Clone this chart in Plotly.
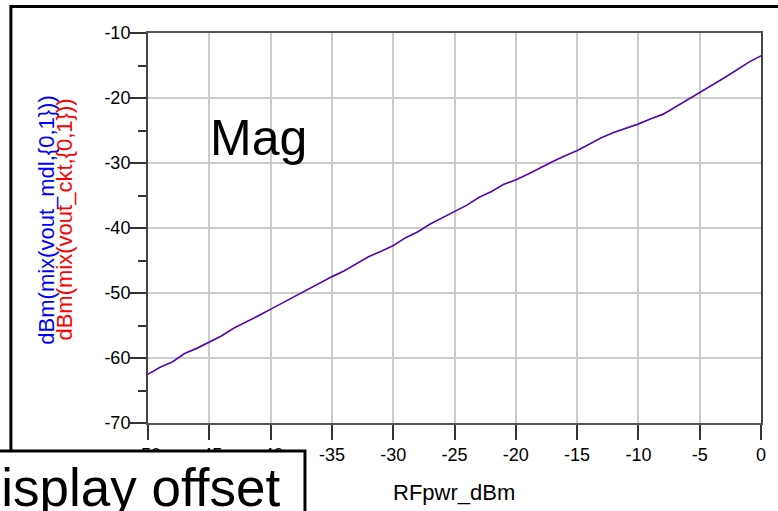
import plotly.graph_objects as go

# ---- data ----
rf_pwr_dbm = list(range(-50, 1))
vout_mdl_dbm = [
    -62.5, -61.4, -60.6, -59.3, -58.5, -57.5, -56.6, -55.4, -54.5, -53.5,
    -52.5, -51.5, -50.4, -49.4, -48.4, -47.5, -46.6, -45.5, -44.4, -43.6,
    -42.7, -41.5, -40.6, -39.4, -38.4, -37.5, -36.5, -35.3, -34.4, -33.3,
    -32.6, -31.7, -30.7, -29.8, -28.9, -28.1, -27.1, -26.1, -25.3, -24.7,
    -24.0, -23.2, -22.5, -21.4, -20.3, -19.2, -18.1, -16.9, -15.7, -14.5,
    -13.5,
]
vout_ckt_dbm = [
    -62.5, -61.4, -60.6, -59.3, -58.5, -57.5, -56.6, -55.4, -54.5, -53.5,
    -52.5, -51.5, -50.4, -49.4, -48.4, -47.5, -46.6, -45.5, -44.4, -43.6,
    -42.7, -41.5, -40.6, -39.4, -38.4, -37.5, -36.5, -35.3, -34.4, -33.3,
    -32.6, -31.7, -30.7, -29.8, -28.9, -28.1, -27.1, -26.1, -25.3, -24.7,
    -24.0, -23.2, -22.5, -21.4, -20.3, -19.2, -18.1, -16.9, -15.7, -14.5,
    -13.5,
]
x_ticks = [-50, -45, -40, -35, -30, -25, -20, -15, -10, -5, 0]
y_ticks = [-70, -60, -50, -40, -30, -20, -10]

FONT = "Liberation Sans, Arial, Helvetica, sans-serif"

# layout geometry in pixels
W, H = 778, 511
L, R, T, B = 148, 13, 33, 88
pw = W - L - R
ph = H - T - B


def px(xp):
    return (xp - L) / pw


def py(yp):
    return (H - B - yp) / ph


fig = go.Figure()
fig.add_trace(go.Scatter(
    x=rf_pwr_dbm, y=vout_ckt_dbm, mode="lines",
    line=dict(color="#ff0000", width=1.4), name="vout_ckt",
))
fig.add_trace(go.Scatter(
    x=rf_pwr_dbm, y=vout_mdl_dbm, mode="lines",
    line=dict(color="rgba(20,20,255,0.85)", width=1.4), name="vout_mdl",
))

fig.update_layout(
    width=W, height=H,
    margin=dict(l=L, r=R, t=T, b=B, pad=0),
    paper_bgcolor="white", plot_bgcolor="white",
    showlegend=False,
    font=dict(family=FONT, size=18, color="black"),
    xaxis=dict(
        range=[-50, 0], tickvals=x_ticks, ticktext=[str(v) for v in x_ticks],
        ticks="outside", ticklen=15, tickwidth=1.5, tickcolor="#333",
        showgrid=True, gridcolor="#cccccc", gridwidth=1.5,
        showline=True, linecolor="#555", linewidth=1.5, mirror=True,
        zeroline=False, tickfont=dict(family=FONT, size=18, color="black"),
    ),
    yaxis=dict(
        range=[-70, -10], tickvals=y_ticks, ticktext=[str(v) for v in y_ticks],
        ticks="outside", ticklen=16, tickwidth=1.5, tickcolor="#333",
        showgrid=True, gridcolor="#cccccc", gridwidth=1.5,
        showline=True, linecolor="#444", linewidth=2, mirror=True,
        zeroline=False, tickfont=dict(family=FONT, size=18, color="black"),
        ticklabelstandoff=-4,
        minor=dict(dtick=5, tick0=-70, ticks="outside", ticklen=8,
                   tickwidth=1.5, tickcolor="#333", showgrid=False),
    ),
)

# outer thick frame (extends beyond the visible window on the right/bottom)
fig.add_shape(type="rect", xref="paper", yref="paper",
              x0=px(10), x1=px(820), y0=py(640), y1=py(6.5),
              line=dict(color="black", width=3), fillcolor="rgba(0,0,0,0)",
              layer="above")
# "Display offset" box covering lower-left corner
fig.add_shape(type="rect", xref="paper", yref="paper",
              x0=px(-60), x1=px(306), y0=py(560), y1=py(451),
              line=dict(color="black", width=3), fillcolor="white",
              layer="above")

annotations = [
    dict(text="Mag", x=-45.1, y=-26.2, xref="x", yref="y",
         xanchor="left", yanchor="middle", showarrow=False,
         font=dict(family=FONT, size=50, color="black")),
    dict(text="RFpwr_dBm", x=px(456), y=py(492.5), xref="paper", yref="paper",
         xanchor="center", yanchor="middle", showarrow=False,
         font=dict(family=FONT, size=22, color="black")),
    dict(text="dBm(mix(vout_mdl,{0,1}))", x=px(46), y=py(220),
         xref="paper", yref="paper", xanchor="center", yanchor="middle",
         textangle=-90, showarrow=False,
         font=dict(family=FONT, size=22, color="#0000ff")),
    dict(text="dBm(mix(vout_ckt,{0,1}))", x=px(64), y=py(220),
         xref="paper", yref="paper", xanchor="center", yanchor="middle",
         textangle=-90, showarrow=False,
         font=dict(family=FONT, size=22, color="#ff0000")),
    dict(text="Display offset", x=px(-40), y=py(487), xref="paper", yref="paper",
         xanchor="left", yanchor="middle", showarrow=False,
         font=dict(family=FONT, size=53, color="black")),
]
fig.update_layout(annotations=annotations)

fig.write_html("out.html",
               config={"displayModeBar": False},
               post_script="document.body.style.margin='0';"
                           "document.body.style.overflow='hidden';")
